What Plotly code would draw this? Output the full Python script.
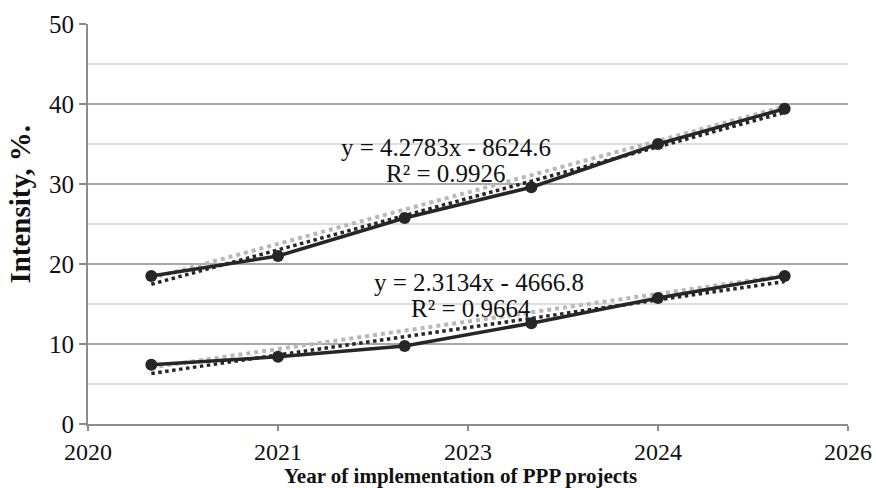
import numpy as np
import plotly.graph_objects as go

# Observation positions on the year axis and the two intensity series (%)
years = [2020.5, 2021.5, 2022.5, 2023.5, 2024.5, 2025.5]
upper_series = [18.5, 21.0, 25.75, 29.6, 35.0, 39.4]
lower_series = [7.4, 8.4, 9.75, 12.6, 15.75, 18.5]

# Axis ticks
x_tickvals = [2020, 2021.5, 2023, 2024.5, 2026]
x_ticktext = ["2020", "2021", "2023", "2024", "2026"]

# Trendline labels
upper_eq = ["y = 4.2783x - 8624.6", "R² = 0.9926"]
lower_eq = ["y = 2.3134x - 4666.8", "R² = 0.9664"]

LINE_COLOR = "#262626"
SHADOW_COLOR = "#b8b8b8"
SHADOW_DY = 0.75  # upward offset of the trendline shadow, in axis units
FONT = "Liberation Serif"
TEXT_COLOR = "#111111"

fig = go.Figure()

for series in (upper_series, lower_series):
    coef = np.polyfit(years, series, 1)
    fit = np.polyval(coef, years)
    # soft shadow of the trendline
    fig.add_trace(go.Scatter(
        x=years, y=fit + SHADOW_DY, mode="lines",
        line=dict(color=SHADOW_COLOR, width=4, dash="dot"),
        hoverinfo="skip", showlegend=False))
    # linear trendline
    fig.add_trace(go.Scatter(
        x=years, y=fit, mode="lines",
        line=dict(color=LINE_COLOR, width=3.5, dash="dot"),
        hoverinfo="skip", showlegend=False))

for series in (upper_series, lower_series):
    fig.add_trace(go.Scatter(
        x=years, y=series, mode="lines+markers",
        line=dict(color=LINE_COLOR, width=3.5),
        marker=dict(color=LINE_COLOR, size=12),
        showlegend=False))

annotations = []
for (xc, yc, txt) in [
    (2022.83, 34.6, upper_eq[0]),
    (2022.83, 31.3, upper_eq[1]),
    (2023.09, 17.75, lower_eq[0]),
    (2023.02, 14.45, lower_eq[1]),
]:
    annotations.append(dict(
        x=xc, y=yc, xref="x", yref="y", text=txt, showarrow=False,
        font=dict(family=FONT, size=25, color=TEXT_COLOR),
        xanchor="center", yanchor="middle"))

# axis titles placed in paper coordinates
annotations.append(dict(
    x=0.49, y=-0.13, xref="paper", yref="paper", xanchor="center", yanchor="middle",
    text="<b>Year of implementation of PPP projects</b>", showarrow=False,
    font=dict(family=FONT, size=21, color=TEXT_COLOR)))
annotations.append(dict(
    x=-0.09, y=0.55, xref="paper", yref="paper", xanchor="center", yanchor="middle",
    text="<b>Intensity, %.</b>", showarrow=False, textangle=-90,
    font=dict(family=FONT, size=29, color=TEXT_COLOR)))

fig.update_layout(
    width=876, height=488,
    margin=dict(l=88, r=28, t=24, b=64, autoexpand=False),
    paper_bgcolor="white", plot_bgcolor="white",
    font=dict(family=FONT, color=TEXT_COLOR),
    annotations=annotations,
    xaxis=dict(
        range=[2020, 2026], automargin=False,
        tickmode="array", tickvals=x_tickvals, ticktext=x_ticktext,
        ticks="outside", ticklen=5, tickwidth=2, tickcolor="#8c8c8c",
        showline=True, linecolor="#8c8c8c", linewidth=2,
        showgrid=False, zeroline=False,
        tickfont=dict(family=FONT, size=24, color=TEXT_COLOR),
    ),
    yaxis=dict(
        range=[0, 50], dtick=10, tick0=0, automargin=False,
        ticks="outside", ticklen=7, tickwidth=2, tickcolor="#8c8c8c",
        showline=True, linecolor="#8c8c8c", linewidth=2,
        showgrid=True, gridcolor="#a8a8a8", gridwidth=2,
        zeroline=False,
        minor=dict(dtick=5, showgrid=True, gridcolor="#dedede", gridwidth=2),
        tickfont=dict(family=FONT, size=25, color=TEXT_COLOR),
    ),
)

fig.write_html("out.html")
